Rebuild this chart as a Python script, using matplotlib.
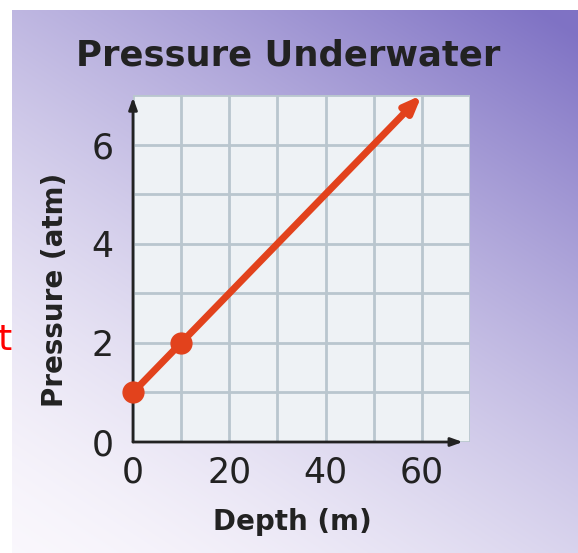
import matplotlib.pyplot as plt
import numpy as np

# data
depth_pts = [0, 10]
pressure_pts = [1, 2]
line_start = (0, 1)
line_end = (60, 7)
xticks = [0, 10, 20, 30, 40, 50, 60, 70]
xlabels = ['0', '', '20', '', '40', '', '60', '']
yticks = [0, 1, 2, 3, 4, 5, 6, 7]
ylabels = ['0', '', '2', '', '4', '', '6', '']

fig = plt.figure(figsize=(5.78, 5.53), dpi=100)

# purple gradient background
bg = fig.add_axes([0, 0, 1, 1])
h, w = 553, 578
yy, xx = np.mgrid[0:1:h * 1j, 0:1:w * 1j]
t = np.clip(0.62 * (1 - yy) + 0.42 * xx, 0, 1)
light = np.array([0.98, 0.97, 0.99])
purple = np.array([0.50, 0.45, 0.77])
img = light + (purple - light) * t[..., None] ** 1.5
img[:10, :] = 1
img[:, :12] = 1
bg.imshow(img, aspect='auto', origin='upper', extent=[0, 1, 0, 1])
bg.axis('off')

ax = fig.add_axes([133 / 578, 111 / 553, 337 / 578, 347 / 553])
ax.set_facecolor('#eef2f5')
ax.set_xlim(0, 70)
ax.set_ylim(0, 7)
ax.set_xticks(xticks, xlabels)
ax.set_yticks(yticks, ylabels)
ax.grid(color='#b9c6ce', linewidth=2)
ax.set_axisbelow(True)
ax.tick_params(length=0, labelsize=25, pad=10, colors='#222222')
ax.tick_params(axis='y', pad=14)
for s in ax.spines.values():
    s.set_visible(False)

# axes with arrows
ax.annotate('', xy=(68.5, 0), xytext=(0, 0), annotation_clip=False,
            arrowprops=dict(arrowstyle='-|>,head_length=0.7,head_width=0.25',
                            color='#222222', lw=2, shrinkA=0, shrinkB=0))
ax.annotate('', xy=(0, 6.95), xytext=(0, 0), annotation_clip=False,
            arrowprops=dict(arrowstyle='-|>,head_length=0.7,head_width=0.25',
                            color='#222222', lw=2, shrinkA=0, shrinkB=0))

# pressure line with arrow
ax.annotate('', xy=line_end, xytext=line_start, annotation_clip=False,
            arrowprops=dict(arrowstyle='-|>,head_length=1.0,head_width=0.4',
                            color='#e2421c', lw=5, shrinkA=0, shrinkB=0))
ax.plot(depth_pts, pressure_pts, 'o', color='#e2421c', markersize=15,
        clip_on=False, zorder=5)

fig.text(0.498, 0.90, 'Pressure Underwater', ha='center', va='center',
         fontsize=25.5, fontweight='bold', color='#222222')
fig.text(55 / 578, 1 - 290 / 553, 'Pressure (atm)', ha='center', va='center',
         rotation=90, fontsize=20, fontweight='bold', color='#222222')
fig.text(292 / 578, 1 - 522 / 553, 'Depth (m)', ha='center', va='center',
         fontsize=20, fontweight='bold', color='#222222')
fig.text(12 / 578, 1 - 340 / 553, 't', ha='right', va='center',
         fontsize=26, color='red')

fig.savefig('out.png', dpi=100)
